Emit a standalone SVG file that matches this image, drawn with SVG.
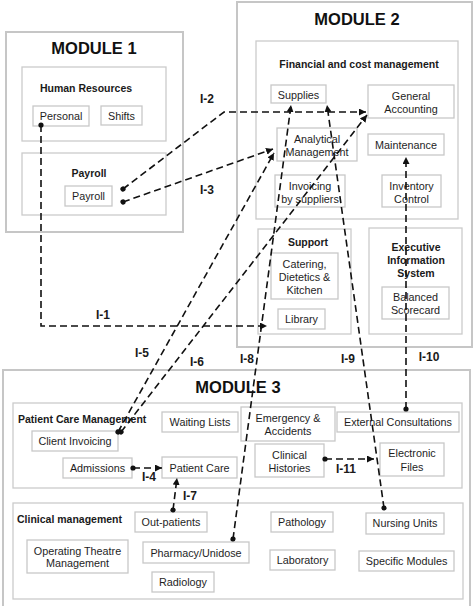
<svg xmlns="http://www.w3.org/2000/svg" width="474" height="606" viewBox="0 0 474 606">
<defs>
<style>
.mod{fill:#fff;stroke:#c6c6c6;stroke-width:2}
.grp{fill:#fff;stroke:#cbcbcb;stroke-width:1.3}
.box{fill:#fff;stroke:#c8c8c8;stroke-width:1.3}
.t{font-family:"Liberation Sans",Arial,sans-serif;font-size:10.8px;fill:#1e1e1e;text-anchor:middle}
.b{font-family:"Liberation Sans",Arial,sans-serif;font-size:10.5px;font-weight:bold;fill:#1a1a1a;text-anchor:middle}
.bl{font-family:"Liberation Sans",Arial,sans-serif;font-size:10.5px;font-weight:bold;fill:#1a1a1a}
.m{font-family:"Liberation Sans",Arial,sans-serif;font-size:16.5px;font-weight:bold;fill:#111;text-anchor:middle}
.l{font-family:"Liberation Sans",Arial,sans-serif;font-size:12px;font-weight:bold;fill:#1a1a1a;text-anchor:middle}
.c{fill:none;stroke:#111;stroke-width:1.6;stroke-dasharray:7 4;marker-start:url(#dot);marker-end:url(#arr)}
</style>
<marker id="arr" markerUnits="userSpaceOnUse" markerWidth="8" markerHeight="8" refX="7" refY="3.5" orient="auto">
<path d="M0,0 L7,3.5 L0,7 z" fill="#111"/>
</marker>
<marker id="dot" markerUnits="userSpaceOnUse" markerWidth="6" markerHeight="6" refX="3" refY="3" orient="auto">
<circle cx="3" cy="3" r="2.6" fill="#111"/>
</marker>
</defs>
<rect width="474" height="606" fill="#fff"/>

<g id="module1">
<rect class="mod" x="6" y="32" width="177" height="200"/>
<text class="m" x="94" y="54">MODULE 1</text>
<g id="human-resources">
<rect class="grp" x="22" y="67" width="144" height="74"/>
<text class="b" x="86" y="92">Human Resources</text>
<g id="personal"><rect class="box" x="33" y="106" width="56" height="20"/><text class="t" x="61" y="120">Personal</text></g>
<g id="shifts"><rect class="box" x="101" y="106" width="41" height="19"/><text class="t" x="121.5" y="120">Shifts</text></g>
</g>
<g id="payroll-group">
<rect class="grp" x="22" y="153" width="144" height="62"/>
<text class="b" x="89" y="177">Payroll</text>
<g id="payroll"><rect class="box" x="65" y="186" width="47" height="20"/><text class="t" x="88.5" y="200">Payroll</text></g>
</g>
</g>

<g id="module2">
<rect class="mod" x="237" y="2" width="235" height="345"/>
<text class="m" x="357" y="25">MODULE 2</text>
<g id="financial">
<rect class="grp" x="256" y="41" width="202" height="178"/>
<text class="b" x="359" y="68">Financial and cost management</text>
<g id="supplies"><rect class="box" x="271" y="85" width="55" height="18"/><text class="t" x="298.5" y="98.5">Supplies</text></g>
<g id="general-accounting"><rect class="box" x="368" y="85" width="86" height="33"/><text class="t" x="411" y="100">General</text><text class="t" x="411" y="112.5">Accounting</text></g>
<g id="analytical-management"><rect class="box" x="277" y="128" width="80" height="33"/><text class="t" x="317" y="143">Analytical</text><text class="t" x="317" y="156">Management</text></g>
<g id="maintenance"><rect class="box" x="368" y="134" width="76" height="21"/><text class="t" x="406" y="149">Maintenance</text></g>
<g id="invoicing-suppliers"><rect class="box" x="275" y="175" width="70" height="32"/><text class="t" x="310" y="190">Invoicing</text><text class="t" x="310" y="203">by suppliers</text></g>
<g id="inventory-control"><rect class="box" x="382" y="175" width="59" height="32"/><text class="t" x="411.5" y="190">Inventory</text><text class="t" x="411.5" y="203">Control</text></g>
</g>
<g id="support">
<rect class="grp" x="258" y="229" width="93" height="105"/>
<text class="b" x="308" y="246">Support</text>
<g id="catering"><rect class="box" x="271" y="253" width="67" height="46"/><text class="t" x="304.5" y="268">Catering,</text><text class="t" x="304.5" y="281">Dietetics &amp;</text><text class="t" x="304.5" y="294">Kitchen</text></g>
<g id="library"><rect class="box" x="278" y="309" width="47" height="20"/><text class="t" x="301.5" y="323">Library</text></g>
</g>
<g id="eis">
<rect class="grp" x="369" y="228" width="93" height="106"/>
<text class="b" x="416" y="251">Executive</text>
<text class="b" x="416" y="264">Information</text>
<text class="b" x="416" y="277">System</text>
<g id="balanced-scorecard"><rect class="box" x="382" y="287" width="67" height="32"/><text class="t" x="415.5" y="301">Balanced</text><text class="t" x="415.5" y="314">Scorecard</text></g>
</g>
</g>

<g id="module3">
<rect class="mod" x="3" y="370" width="467" height="238"/>
<text class="m" x="238" y="393">MODULE 3</text>
<g id="patient-care-management">
<rect class="grp" x="13" y="403" width="449" height="85"/>
<text class="bl" x="18" y="423">Patient Care Management</text>
<g id="waiting-lists"><rect class="box" x="162" y="412" width="76" height="20"/><text class="t" x="200" y="426">Waiting Lists</text></g>
<g id="emergency"><rect class="box" x="241" y="407" width="94" height="34"/><text class="t" x="288" y="422">Emergency &amp;</text><text class="t" x="288" y="435">Accidents</text></g>
<g id="external-consultations"><rect class="box" x="337" y="412" width="122" height="20"/><text class="t" x="398" y="426">External Consultations</text></g>
<g id="client-invoicing"><rect class="box" x="32" y="431" width="86" height="20"/><text class="t" x="75" y="445">Client Invoicing</text></g>
<g id="admissions"><rect class="box" x="63" y="458" width="69" height="20"/><text class="t" x="97.5" y="472">Admissions</text></g>
<g id="patient-care"><rect class="box" x="162" y="457" width="75" height="21"/><text class="t" x="199.5" y="472">Patient Care</text></g>
<g id="clinical-histories"><rect class="box" x="255" y="444" width="69" height="33"/><text class="t" x="289.5" y="459">Clinical</text><text class="t" x="289.5" y="472">Histories</text></g>
<g id="electronic-files"><rect class="box" x="380" y="443" width="64" height="33"/><text class="t" x="412" y="457">Electronic</text><text class="t" x="412" y="471">Files</text></g>
</g>
<g id="clinical-management">
<rect class="grp" x="13" y="503" width="450" height="96"/>
<text class="bl" x="17" y="523">Clinical management</text>
<g id="out-patients"><rect class="box" x="135" y="512" width="72" height="20"/><text class="t" x="171" y="526">Out-patients</text></g>
<g id="operating-theatre"><rect class="box" x="27" y="540" width="101" height="33"/><text class="t" x="77.5" y="555">Operating Theatre</text><text class="t" x="77.5" y="567">Management</text></g>
<g id="pharmacy"><rect class="box" x="143" y="542" width="106" height="21"/><text class="t" x="196" y="557">Pharmacy/Unidose</text></g>
<g id="radiology"><rect class="box" x="152" y="572" width="62" height="20"/><text class="t" x="183" y="586">Radiology</text></g>
<g id="pathology"><rect class="box" x="271" y="512" width="62" height="20"/><text class="t" x="302" y="526">Pathology</text></g>
<g id="nursing-units"><rect class="box" x="366" y="513" width="78" height="21"/><text class="t" x="405" y="527">Nursing Units</text></g>
<g id="laboratory"><rect class="box" x="270" y="550" width="65" height="20"/><text class="t" x="302.5" y="564">Laboratory</text></g>
<g id="specific-modules"><rect class="box" x="359" y="551" width="95" height="20"/><text class="t" x="406.5" y="565">Specific Modules</text></g>
</g>
</g>

<g id="connectors">
<path class="c" d="M41,125 V326 H267"/>
<path class="c" d="M123,189 L224,112 H366"/>
<path class="c" d="M123,202 L273,149"/>
<path class="c" d="M133,468 H162"/>
<path class="c" d="M118,432 L274,153"/>
<path class="c" d="M121,432 L367,115"/>
<path class="c" d="M173,510 L177,478"/>
<path class="c" d="M233,539 L291,105"/>
<path class="c" d="M384,508 L327,105"/>
<path class="c" d="M406,409 V157"/>
<path class="c" d="M325,459 H374"/>
</g>

<g id="labels">
<text class="l" x="103" y="319">I-1</text>
<text class="l" x="207" y="103">I-2</text>
<text class="l" x="207" y="194">I-3</text>
<text class="l" x="149" y="481">I-4</text>
<text class="l" x="142" y="357">I-5</text>
<text class="l" x="197" y="366">I-6</text>
<text class="l" x="190" y="500">I-7</text>
<text class="l" x="247" y="363">I-8</text>
<text class="l" x="348" y="363">I-9</text>
<text class="l" x="429" y="361">I-10</text>
<text class="l" x="346" y="473">I-11</text>
</g>
</svg>
